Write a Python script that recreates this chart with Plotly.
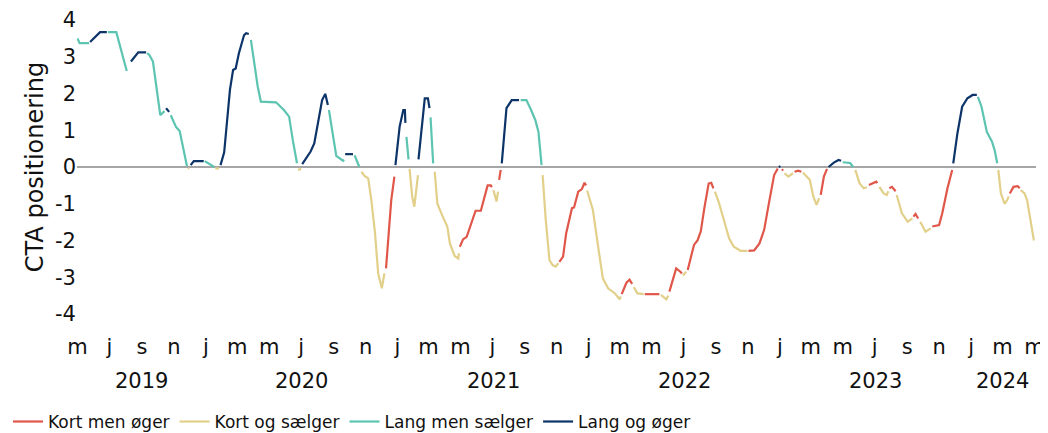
import plotly.graph_objects as go
import pandas as pd

# ---- data (CTA positioning, coloured by regime) ----
# R = Kort men øger, Y = Kort og sælger, T = Lang men sælger, N = Lang og øger
dates = [
    "2019-05-01", "2019-05-05", "2019-05-23",
    "2019-05-25", "2019-06-13", "2019-06-26",
    "2019-06-28", "2019-07-14", "2019-08-03",
    "2019-08-11", "2019-08-25", "2019-09-09",
    "2019-09-11", "2019-09-15", "2019-09-22", "2019-10-06", "2019-10-14",
    "2019-10-17", "2019-10-23",
    "2019-10-26", "2019-11-05", "2019-11-12", "2019-11-26",
    "2019-11-28", "2019-11-30",
    "2019-12-03", "2019-12-09", "2019-12-28",
    "2019-12-30", "2020-01-17",
    "2020-01-19", "2020-01-26",
    "2020-01-29", "2020-02-05", "2020-02-16", "2020-02-22", "2020-02-27", "2020-03-04", "2020-03-14", "2020-03-18", "2020-03-23",
    "2020-03-27", "2020-04-09", "2020-04-15", "2020-05-14", "2020-05-29", "2020-06-08", "2020-06-15", "2020-06-23",
    "2020-06-25", "2020-07-01",
    "2020-07-03", "2020-07-19", "2020-07-26", "2020-08-05", "2020-08-10", "2020-08-16", "2020-08-21",
    "2020-08-23", "2020-08-30", "2020-09-06", "2020-09-19", "2020-09-21",
    "2020-09-23", "2020-10-08",
    "2020-10-11", "2020-10-20",
    "2020-10-24", "2020-10-30", "2020-11-06", "2020-11-12", "2020-11-19", "2020-11-25", "2020-12-02", "2020-12-07",
    "2020-12-10", "2020-12-20", "2020-12-26",
    "2020-12-28", "2021-01-05", "2021-01-12", "2021-01-15", "2021-01-16",
    "2021-01-18", "2021-01-22",
    "2021-01-24", "2021-01-29", "2021-02-02", "2021-02-09",
    "2021-02-10", "2021-02-16", "2021-02-22", "2021-02-28", "2021-03-03",
    "2021-03-05", "2021-03-10",
    "2021-03-13", "2021-03-18", "2021-03-27", "2021-04-06", "2021-04-11", "2021-04-20", "2021-04-27", "2021-04-28",
    "2021-04-30", "2021-05-06", "2021-05-13", "2021-05-30", "2021-06-09", "2021-06-22", "2021-06-28", "2021-06-30",
    "2021-07-03", "2021-07-09", "2021-07-12",
    "2021-07-14", "2021-07-17",
    "2021-07-19", "2021-07-28", "2021-08-07", "2021-08-21",
    "2021-08-24", "2021-09-04", "2021-09-13", "2021-09-21", "2021-09-27", "2021-10-03",
    "2021-10-05", "2021-10-11", "2021-10-18", "2021-10-24", "2021-10-30", "2021-11-04",
    "2021-11-06", "2021-11-13", "2021-11-19", "2021-11-25", "2021-11-30", "2021-12-04", "2021-12-12", "2021-12-19", "2021-12-24", "2021-12-27",
    "2021-12-29", "2022-01-09", "2022-01-19", "2022-01-28", "2022-02-07", "2022-02-20", "2022-03-01", "2022-03-03",
    "2022-03-05", "2022-03-14", "2022-03-20", "2022-03-25",
    "2022-03-28", "2022-04-04", "2022-04-16",
    "2022-04-18", "2022-05-16",
    "2022-05-19", "2022-05-29", "2022-06-02",
    "2022-06-04", "2022-06-17", "2022-06-25", "2022-06-28",
    "2022-06-30", "2022-07-06",
    "2022-07-09", "2022-07-21", "2022-07-28", "2022-08-03", "2022-08-10", "2022-08-18", "2022-08-23", "2022-08-27",
    "2022-08-30", "2022-09-07", "2022-09-17", "2022-09-26", "2022-10-05", "2022-10-18", "2022-10-31",
    "2022-11-02", "2022-11-13", "2022-11-23", "2022-12-02", "2022-12-11", "2022-12-21", "2022-12-28",
    "2022-12-30", "2023-01-02",
    "2023-01-05", "2023-01-07",
    "2023-01-10", "2023-01-17", "2023-01-26",
    "2023-01-29", "2023-02-05", "2023-02-11",
    "2023-02-14", "2023-02-27", "2023-03-06", "2023-03-12", "2023-03-17",
    "2023-03-20", "2023-03-26", "2023-04-01",
    "2023-04-04", "2023-04-14", "2023-04-23", "2023-04-28",
    "2023-05-01", "2023-05-15", "2023-05-21",
    "2023-05-25", "2023-06-02", "2023-06-10", "2023-06-16",
    "2023-06-20", "2023-07-04", "2023-07-06",
    "2023-07-10", "2023-07-18", "2023-07-24", "2023-07-27",
    "2023-07-29", "2023-08-03", "2023-08-10",
    "2023-08-12", "2023-08-22", "2023-09-02", "2023-09-11",
    "2023-09-13", "2023-09-17", "2023-09-22",
    "2023-09-26", "2023-10-06", "2023-10-16",
    "2023-10-19", "2023-11-01", "2023-11-07", "2023-11-17", "2023-11-26",
    "2023-11-28", "2023-12-06", "2023-12-15", "2023-12-25", "2024-01-04", "2024-01-12",
    "2024-01-14", "2024-01-21", "2024-01-31", "2024-02-10", "2024-02-15", "2024-02-20",
    "2024-02-22", "2024-02-27", "2024-03-05", "2024-03-10", "2024-03-13",
    "2024-03-15", "2024-03-22", "2024-03-30", "2024-04-03",
    "2024-04-05", "2024-04-12", "2024-04-17", "2024-04-30",
]
values = [
    3.50, 3.37, 3.37,
    3.40, 3.67, 3.67,
    3.67, 3.67, 2.61,
    2.87, 3.12, 3.12,
    3.10, 3.05, 2.87, 1.41, 1.52,
    1.60, 1.50,
    1.41, 1.09, 0.98, 0.02,
    -0.03, -0.05,
    0.05, 0.16, 0.16,
    0.16, 0.00,
    -0.04, -0.04,
    0.05, 0.40, 2.10, 2.64, 2.68, 3.09, 3.59, 3.64, 3.62,
    3.46, 2.19, 1.78, 1.76, 1.55, 1.37, 0.73, 0.10,
    -0.08, -0.05,
    0.08, 0.42, 0.64, 1.46, 1.82, 1.99, 1.69,
    1.55, 0.92, 0.30, 0.17, 0.20,
    0.35, 0.35,
    0.32, 0.00,
    -0.13, -0.24, -0.31, -0.90, -1.80, -2.89, -3.30, -2.89,
    -2.76, -0.90, -0.26,
    0.05, 1.10, 1.55, 1.55, 1.20,
    0.82, 0.21,
    -0.05, -0.81, -1.08, -0.22,
    0.21, 1.10, 1.87, 1.87, 1.60,
    1.35, 0.10,
    -0.13, -0.99, -1.31, -1.62, -2.08, -2.42, -2.49, -2.35,
    -2.17, -1.97, -1.90, -1.19, -1.19, -0.50, -0.50, -0.55,
    -0.63, -0.94, -0.67,
    -0.35, -0.08,
    0.10, 1.60, 1.82, 1.82,
    1.82, 1.82, 1.55, 1.28, 0.96, 0.05,
    -0.22, -1.44, -2.53, -2.67, -2.71, -2.62,
    -2.58, -2.44, -1.80, -1.44, -1.12, -1.10, -0.67, -0.60, -0.43, -0.50,
    -0.64, -1.17, -2.17, -3.03, -3.30, -3.44, -3.60, -3.52,
    -3.46, -3.15, -3.07, -3.18,
    -3.27, -3.44, -3.46,
    -3.46, -3.46,
    -3.48, -3.60, -3.50,
    -3.39, -2.76, -2.85, -2.90,
    -2.95, -2.85,
    -2.80, -2.12, -1.99, -1.75, -1.10, -0.45, -0.43, -0.58,
    -0.67, -0.99, -1.49, -1.94, -2.17, -2.28, -2.28,
    -2.28, -2.27, -2.08, -1.71, -0.99, -0.22, -0.04,
    0.00, 0.02,
    -0.06, -0.10,
    -0.17, -0.26, -0.17,
    -0.13, -0.10, -0.13,
    -0.15, -0.35, -0.81, -1.03, -0.85,
    -0.76, -0.26, -0.05,
    0.00, 0.12, 0.19, 0.17,
    0.13, 0.11, 0.00,
    -0.08, -0.44, -0.58, -0.55,
    -0.49, -0.40, -0.44,
    -0.54, -0.72, -0.76, -0.66,
    -0.58, -0.54, -0.66,
    -0.76, -1.26, -1.49, -1.40,
    -1.35, -1.28, -1.40,
    -1.49, -1.76, -1.67,
    -1.62, -1.58, -1.26, -0.58, -0.08,
    0.10, 0.92, 1.64, 1.87, 1.96, 1.96,
    1.91, 1.64, 0.96, 0.69, 0.46, 0.10,
    -0.08, -0.72, -1.00, -0.90, -0.80,
    -0.72, -0.54, -0.52, -0.58,
    -0.63, -0.72, -0.90, -2.00,
]
regime = (
    ["T"] * 3 + ["N"] * 3 + ["T"] * 3 + ["N"] * 3 + ["T"] * 5 + ["N"] * 2 + ["T"] * 4
    + ["Y"] * 2 + ["N"] * 3 + ["T"] * 2 + ["Y"] * 2 + ["N"] * 9 + ["T"] * 8
    + ["Y"] * 2 + ["N"] * 7 + ["T"] * 5 + ["N"] * 2 + ["T"] * 2 + ["Y"] * 8
    + ["R"] * 3 + ["N"] * 5 + ["T"] * 2 + ["Y"] * 4 + ["N"] * 5 + ["T"] * 2
    + ["Y"] * 8 + ["R"] * 8 + ["Y"] * 3 + ["R"] * 2 + ["N"] * 4 + ["T"] * 6
    + ["Y"] * 6 + ["R"] * 10 + ["Y"] * 8 + ["R"] * 4 + ["Y"] * 3 + ["R"] * 2
    + ["Y"] * 3 + ["R"] * 4 + ["Y"] * 2 + ["R"] * 8 + ["Y"] * 7 + ["R"] * 7
    + ["N"] * 2 + ["R"] * 2 + ["Y"] * 3 + ["R"] * 3 + ["Y"] * 5 + ["R"] * 3
    + ["N"] * 4 + ["T"] * 3 + ["Y"] * 4 + ["R"] * 3 + ["Y"] * 4 + ["R"] * 3
    + ["Y"] * 4 + ["R"] * 3 + ["Y"] * 3 + ["R"] * 5 + ["N"] * 6 + ["T"] * 6
    + ["Y"] * 5 + ["R"] * 4 + ["Y"] * 4
)
assert len(dates) == len(values) == len(regime), (len(dates), len(values), len(regime))

series_codes = ["R", "Y", "T", "N"]
series_names = ["Kort men øger", "Kort og sælger", "Lang men sælger", "Lang og øger"]
series_colors = ["#E0574A", "#E2D08A", "#5CC4B1", "#0D3468"]

month_letters = {1: "j", 3: "m", 5: "m", 7: "j", 9: "s", 11: "n"}
years = [2019, 2020, 2021, 2022, 2023, 2024]
y_ticks = [-4, -3, -2, -1, 0, 1, 2, 3, 4]

axis_start = pd.Timestamp("2019-05-01")
axis_end = pd.Timestamp("2024-05-01")

# ---- figure ----
x = pd.to_datetime(dates)
fig = go.Figure()
for code, name, color in zip(series_codes, series_names, series_colors):
    y = [v if r == code else None for v, r in zip(values, regime)]
    fig.add_trace(go.Scatter(
        x=x, y=y, name=name, mode="lines",
        line=dict(color=color, width=2.2),
        connectgaps=False,
    ))

tick_dates = pd.date_range(axis_start, axis_end, freq="2MS")
tick_text = [month_letters[d.month] for d in tick_dates]

font_family = "DejaVu Sans"
text_color = "#111111"

# the page body adds an 8px offset, so the figure is 8px smaller than the window
fig.update_layout(
    width=1040, height=425,
    margin=dict(l=69, r=12, t=12, b=119, autoexpand=False),
    plot_bgcolor="white", paper_bgcolor="white",
    font=dict(family=font_family, size=21, color=text_color),
    showlegend=True,
    legend=dict(
        orientation="h", xref="container", x=-0.0115, xanchor="left",
        yref="container", y=0.026, yanchor="middle",
        font=dict(size=17), itemwidth=30, tracegroupgap=0,
        bgcolor="rgba(0,0,0,0)",
    ),
    xaxis=dict(
        type="date",
        range=[axis_start - pd.Timedelta(days=1), axis_end + pd.Timedelta(days=3)],
        tickvals=tick_dates, ticktext=tick_text,
        showgrid=False, zeroline=False, showline=False, ticks="",
        tickfont=dict(size=21), ticklabelstandoff=18, automargin=False,
        ticklabeloverflow="allow",
    ),
    yaxis=dict(
        range=[-4, 4], tickvals=y_ticks, ticktext=[str(v) for v in y_ticks],
        showgrid=False, zeroline=True, zerolinecolor="#a6a6a6", zerolinewidth=1.5,
        showline=False, ticks="", tickfont=dict(size=21), automargin=False,
        title=dict(text="CTA positionering", font=dict(size=24), standoff=4),
    ),
)

for yr in years:
    s = max(pd.Timestamp(yr, 1, 1), axis_start)
    e = min(pd.Timestamp(yr + 1, 1, 1), axis_end)
    c = s + (e - s) / 2
    fig.add_annotation(
        x=c, xref="x", y=-0.228, yref="paper", yanchor="middle",
        text=str(yr), showarrow=False, font=dict(size=21, color=text_color),
    )

fig.write_html("out.html")
